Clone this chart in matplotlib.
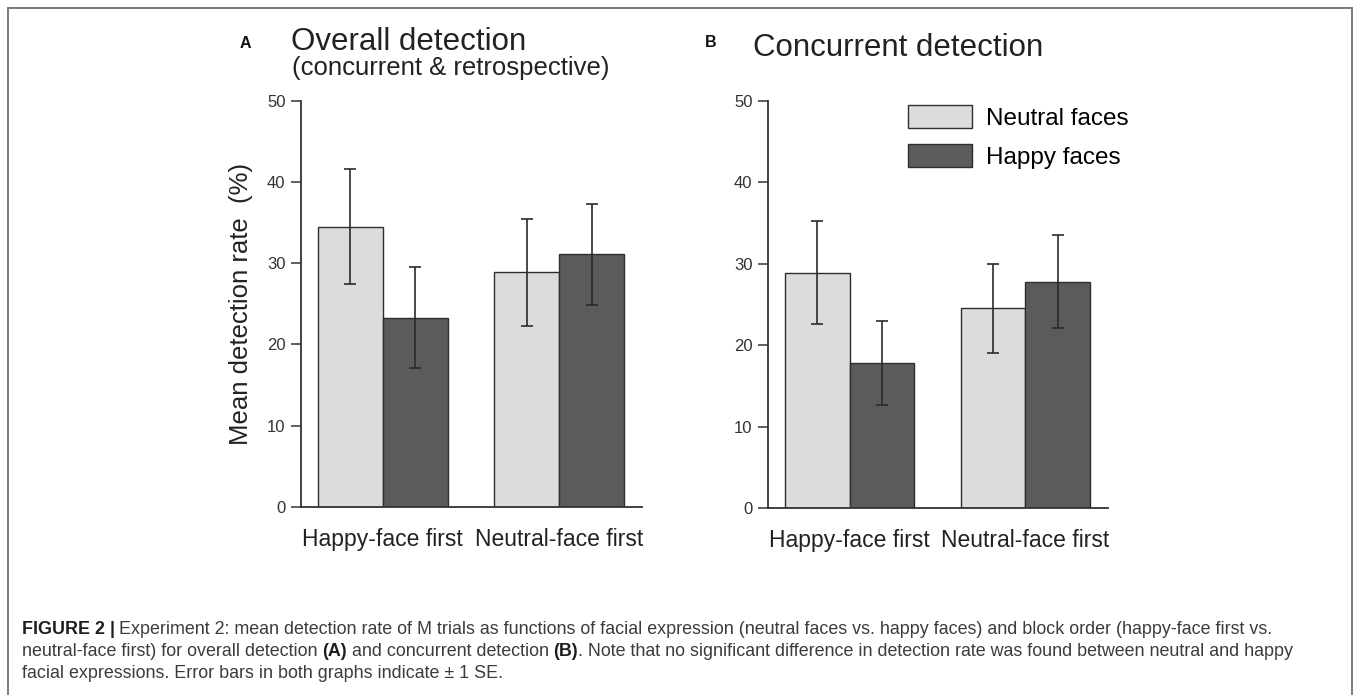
import numpy as np
import matplotlib
matplotlib.use('Agg')
import matplotlib.pyplot as plt
from matplotlib.patches import Rectangle

plt.rcParams['font.family'] = ['Liberation Sans', 'DejaVu Sans']

# data
groups = ['Happy-face first', 'Neutral-face first']
series = ['Neutral faces', 'Happy faces']
overall_mean = {'Neutral faces': [34.5, 28.9], 'Happy faces': [23.3, 31.1]}
overall_se = {'Neutral faces': [7.1, 6.6], 'Happy faces': [6.2, 6.2]}
concurrent_mean = {'Neutral faces': [28.9, 24.5], 'Happy faces': [17.8, 27.8]}
concurrent_se = {'Neutral faces': [6.3, 5.5], 'Happy faces': [5.2, 5.7]}
yticks = [0, 10, 20, 30, 40, 50]

colors = {'Neutral faces': '#dcdcdc', 'Happy faces': '#5b5b5b'}
W, H = 1357, 695

fig = plt.figure(figsize=(W / 100, H / 100), dpi=100)


def px(x, y):
    return x / W, 1 - y / H


def panel(rect, means, ses):
    ax = fig.add_axes(rect)
    x = np.arange(len(groups))
    w = 0.368
    for k, s in enumerate(series):
        xs = x + (k - 0.5) * w
        ax.bar(xs, means[s], width=w, color=colors[s], edgecolor='#2e2e2e',
               linewidth=1.0, label=s, zorder=2)
        ax.errorbar(xs, means[s], yerr=ses[s], fmt='none', ecolor='#2b2b2b',
                    elinewidth=1.2, capsize=4, capthick=1.2, zorder=3)
    ax.set_xlim(-0.466, 1.47)
    ax.set_ylim(0, 50)
    ax.set_yticks(yticks)
    ax.set_xticks(x)
    ax.set_xticklabels(groups, fontsize=16.5, color='#222222')
    ax.tick_params(axis='x', length=0, pad=15)
    ax.tick_params(axis='y', length=7, width=1.1, color='#333333', pad=4,
                   labelsize=12, labelcolor='#333333')
    for sp in ['top', 'right']:
        ax.spines[sp].set_visible(False)
    for sp in ['left', 'bottom']:
        ax.spines[sp].set_linewidth(1.3)
        ax.spines[sp].set_color('#333333')
    ax.spines['left'].set_bounds(0, 50)
    ax.set_facecolor('none')
    return ax


axA = panel([300.7 / W, 1 - 507 / H, (642 - 300.7) / W, (507 - 100.7) / H],
            overall_mean, overall_se)
axA.set_ylabel('Mean detection rate  (%)', fontsize=18.5, color='#222222', labelpad=10)

axB = panel([767.7 / W, 1 - 508 / H, (1108 - 767.7) / W, (508 - 100.7) / H],
            concurrent_mean, concurrent_se)
axB.legend(loc='upper left', bbox_to_anchor=px(908, 105), bbox_transform=fig.transFigure,
           frameon=False, fontsize=17.5, handlelength=2.65, handleheight=1.05,
           handletextpad=0.55, labelspacing=0.6, borderpad=0, borderaxespad=0)

# panel titles
fig.text(*px(240, 48), 'A', fontsize=11.5, fontweight='bold', color='#111111', va='baseline')
fig.text(*px(291, 50), 'Overall detection', fontsize=22.5, color='#222222', va='baseline')
fig.text(*px(292, 75), '(concurrent & retrospective)', fontsize=18.5, color='#222222', va='baseline')
fig.text(*px(705, 47), 'B', fontsize=11.5, fontweight='bold', color='#111111', va='baseline')
fig.text(*px(753, 56), 'Concurrent detection', fontsize=22.5, color='#222222', va='baseline')

# caption with bold runs
caption = [
    [('FIGURE 2 |', 'bold'),
     (' Experiment 2: mean detection rate of M trials as functions of facial expression '
      '(neutral faces vs. happy faces) and block order (happy-face first vs.', 'normal')],
    [('neutral-face first) for overall detection ', 'normal'), ('(A)', 'bold'),
     (' and concurrent detection ', 'normal'), ('(B)', 'bold'),
     ('. Note that no significant difference in detection rate was found between neutral and happy', 'normal')],
    [('facial expressions. Error bars in both graphs indicate \u00b1 1 SE.', 'normal')],
]
renderer = fig.canvas.get_renderer()
for i, line in enumerate(caption):
    xcur = 21.5
    for txt, wt in line:
        t = fig.text(*px(xcur, 634 + i * 22), txt, fontsize=12.85, fontweight=wt,
                     color='#1e1e1e' if wt == 'bold' else '#3c3c3c', va='baseline')
        bb = t.get_window_extent(renderer=renderer)
        xcur += bb.width

# outer frame, open at the bottom edge
fig.patches.append(Rectangle(px(7.5, 705), (1352 - 7.5) / W, (705 - 8) / H,
                             transform=fig.transFigure, fill=False,
                             edgecolor='#7a7a7a', linewidth=1.4))

fig.savefig('out.png', dpi=100)
